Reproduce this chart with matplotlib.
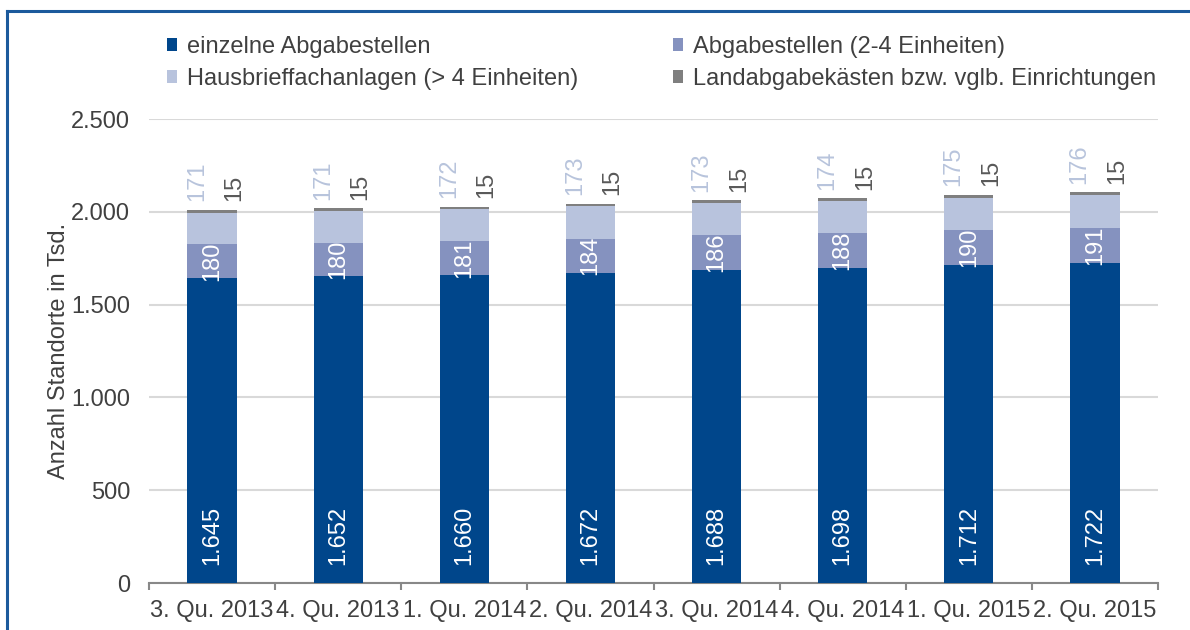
import matplotlib
matplotlib.use("Agg")
import matplotlib.pyplot as plt
from matplotlib.lines import Line2D
import numpy as np

categories = ["3. Qu. 2013", "4. Qu. 2013", "1. Qu. 2014", "2. Qu. 2014",
              "3. Qu. 2014", "4. Qu. 2014", "1. Qu. 2015", "2. Qu. 2015"]
einzelne = [1645, 1652, 1660, 1672, 1688, 1698, 1712, 1722]
abgabe_2_4 = [180, 180, 181, 184, 186, 188, 190, 191]
hausbrief = [171, 171, 172, 173, 173, 174, 175, 176]
land = [15, 15, 15, 15, 15, 15, 15, 15]
series_names = ["einzelne Abgabestellen", "Abgabestellen (2-4 Einheiten)",
                "Hausbrieffachanlagen (> 4 Einheiten)",
                "Landabgabekästen bzw. vglb. Einrichtungen"]
yticks = [0, 500, 1000, 1500, 2000, 2500]

colors = ["#00468b", "#8592bf", "#b8c3dd", "#7f7f7f"]
txt = "#404040"

plt.rcParams['font.family'] = ['Liberation Sans', 'DejaVu Sans']
FS = 17

def fmt(v):
    return f"{v:,}".replace(",", ".")

fig = plt.figure(figsize=(11.9, 6.3), dpi=100)
ax = fig.add_axes([149/1190, 1 - 583/630, (1158-149)/1190, (583-119)/630])

x = np.arange(len(categories))
w = 0.39
data = [einzelne, abgabe_2_4, hausbrief, land]
bottom = np.zeros(len(categories))
bars = []
for vals, c in zip(data, colors):
    b = ax.bar(x, vals, w, bottom=bottom, color=c, linewidth=0, zorder=3)
    bars.append(b)
    bottom = bottom + np.array(vals)

# labels
for i in range(len(categories)):
    ax.annotate(fmt(einzelne[i]), (x[i], 0), xytext=(0, 13), textcoords="offset points",
                rotation=90, ha="center", va="bottom", color="white", fontsize=FS, zorder=4)
    ax.text(x[i], einzelne[i] + abgabe_2_4[i] / 2, fmt(abgabe_2_4[i]), rotation=90,
            ha="center", va="center", color="white", fontsize=FS, zorder=4)
    top = einzelne[i] + abgabe_2_4[i] + hausbrief[i] + land[i]
    ax.annotate(fmt(hausbrief[i]), (x[i], top), xytext=(-11, 6), textcoords="offset points",
                rotation=90, ha="center", va="bottom", color="#b8c4dc", fontsize=FS, zorder=4)
    ax.annotate(fmt(land[i]), (x[i], top), xytext=(16, 6), textcoords="offset points",
                rotation=90, ha="center", va="bottom", color="#595959", fontsize=FS, zorder=4)

ax.set_xlim(-0.5, len(categories) - 0.5)
ax.set_ylim(0, 2500)
ax.set_yticks(yticks)
ax.set_yticklabels([fmt(v) for v in yticks], fontsize=FS, color=txt)
ax.yaxis.grid(True, color="#d9d9d9", linewidth=1.5, zorder=0)
ax.set_axisbelow(True)
ax.tick_params(axis="y", length=0, pad=13.5)
ax.set_xticks(x)
ax.set_xticklabels(categories, fontsize=FS, color=txt)
ax.tick_params(axis="x", length=0, pad=12)
ax.set_xticks(np.arange(len(categories) + 1) - 0.5, minor=True)
ax.tick_params(axis="x", which="minor", length=5, color="#888888", width=1.5)
for s in ["top", "right", "left"]:
    ax.spines[s].set_visible(False)
ax.spines["bottom"].set_color("#888888")
ax.spines["bottom"].set_linewidth(1.5)
ax.set_ylabel("Anzahl Standorte in Tsd.", fontsize=FS, color=txt, labelpad=1)

handles = [bars[0], bars[2], bars[1], bars[3]]
labels = [series_names[0], series_names[2], series_names[1], series_names[3]]
leg = fig.legend(handles, labels, ncol=2, loc="upper left",
                 bbox_to_anchor=(155/1190, 1 - 24/630), frameon=False,
                 fontsize=FS, handlelength=0.45, handleheight=0.45, handletextpad=0.4,
                 columnspacing=4.0, labelspacing=0.42, borderpad=0)
for t in leg.get_texts():
    t.set_color(txt)

# frame border (top and left)
fig.add_artist(Line2D([7/1190, 1], [1 - 11/630, 1 - 11/630], color="#1c5a9c", linewidth=2.2,
                      transform=fig.transFigure))
fig.add_artist(Line2D([7/1190, 7/1190], [0, 1 - 11/630], color="#1c5a9c", linewidth=2.2,
                      transform=fig.transFigure))

fig.savefig("out.png", dpi=100)
